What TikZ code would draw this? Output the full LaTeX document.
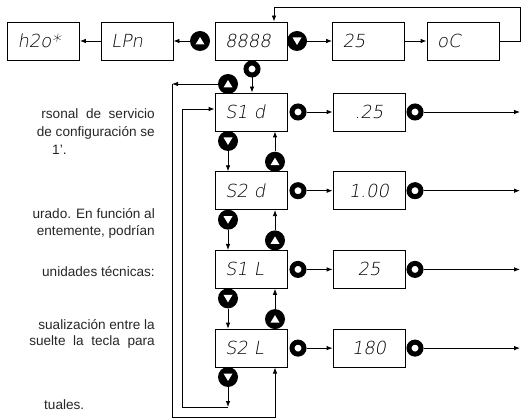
\documentclass[tikz,border=0pt]{standalone}
\usepackage{fontspec}
\setmainfont{Liberation Sans}
\newfontfamily\segfont{DejaVu Sans}[UprightFont=* ExtraLight, FakeSlant=0.18]
\usetikzlibrary{arrows.meta,positioning}

\tikzset{
  disp/.style={draw, line width=0.8pt, minimum width=72pt, minimum height=38pt,
    inner sep=0pt, font=\segfont\fontsize{18}{18}\selectfont, text width=52pt, align=left},
  val/.style={disp, align=center},
  keyup/.style={circle, fill=black, minimum size=20pt, inner sep=0pt,
    path picture={\fill[white] ([yshift=4pt]path picture bounding box.center)
      -- ++(-4.5pt,-7.5pt) -- ++(9pt,0pt) -- cycle;}},
  keydn/.style={circle, fill=black, minimum size=20pt, inner sep=0pt,
    path picture={\fill[white] ([yshift=-4pt]path picture bounding box.center)
      -- ++(-4.5pt,7.5pt) -- ++(9pt,0pt) -- cycle;}},
  keyok/.style={circle, draw=black, fill=white, line width=5pt, minimum size=12pt, inner sep=0pt},
  link/.style={line width=0.8pt, -{Latex[length=6pt,width=4.5pt]}},
  wire/.style={line width=0.8pt},
  para/.style={font=\fontsize{13.6}{16}\selectfont, text=black!85, inner sep=0pt}
}

\begin{document}
\begin{tikzpicture}[x=1pt,y=-1pt]
    \useasboundingbox (0,0) rectangle (521,419);
    \clip (0,0) rectangle (521,419);

    % Left text (cut at the page edge)
    \node[para, anchor=base east] (t1) at (155,119) {rsonal\ \ de\ \ servicio};
    \node[para, anchor=base east] (t2) at (155,137) {de configuración se};
    \node[para, anchor=base west] (t3) at (52,155) {1’.};
    \node[para, anchor=base east] (t4) at (155,219) {urado. En función al};
    \node[para, anchor=base east] (t5) at (155,236) {entemente, podrían};
    \node[para, anchor=base east] (t6) at (155,276) {unidades técnicas:};
    \node[para, anchor=base east] (t7) at (155,329) {sualización entre la};
    \node[para, anchor=base east] (t8) at (155,345.5) {suelte\ \ la\ \ tecla\ \ para};
    \node[para, anchor=base west] (t9) at (44,409) {tuales.};

    % Top row
    \node[disp] (h2o) at (43.5,41) {h2o*};
    \node[disp] (lpn) at (137,41) {LPn};
    \node[disp] (main) at (251,41) {8888};
    \node[disp] (tmp) at (368.5,41) {25};
    \node[disp] (unit) at (463,41) {oC};
    \node[keyup] (kup0) at (200,41) {};
    \node[keydn] (kdn0) at (297,41) {};
    \node[keyok] (kok0) at (252,69) {};

    \draw[link] (kup0) -- (lpn);
    \draw[link] (lpn) -- (h2o);
    \draw[link] (kdn0) -- (tmp);
    \draw[link] (tmp) -- (unit);
    \coordinate (ret) at (520,7);
    \draw[link] (unit.east) -| (ret) -| ([xshift=23pt]main.north);

    % Parameter rows
    \foreach \n/\lab/\val [count=\i] in {s1d/S1 d/.25, s2d/S2 d/1.00, s1l/S1 L/25, s2l/S2 L/180} {
        \pgfmathsetmacro{\yy}{112+78.7*(\i-1)}
        \node[disp] (\n) at (251,\yy) {\lab};
        \node[keyok] (ka\i) at (298,\yy) {};
        \node[val] (v\i) at (369,\yy) {\val};
        \node[keyok] (kb\i) at (415,\yy) {};
        \coordinate (e\i) at (520,\yy);
        \draw[link] (ka\i) -- (v\i);
        \draw[link] (kb\i) -- (e\i);
    }
    \draw[link] (kok0) -- (kok0 |- s1d.north);

    % Up / down between rows
    \foreach \a/\b [count=\i] in {s1d/s2d, s2d/s1l, s1l/s2l} {
        \node[keydn] (kdn\i) at ([xshift=-23pt,yshift=-29pt]\a.center) {};
        \node[keyup] (kup\i) at ([xshift=24pt,yshift=29pt]\b.center) {};
        \draw[link] (kdn\i) -- (kdn\i |- \b.north);
        \draw[link] (kup\i) -- (kup\i |- \a.south);
    }

    % Wrap around loops
    \node[keyup] (kupt) at (228,84) {};
    \coordinate (c1) at (172,84);
    \coordinate (c2) at (172,417);
    \draw[link] (kupt) -- (c1);
    \draw[link] (c1) -- (c2) -| ([xshift=24pt]s2l.south);

    \node[keydn] (kdnb) at (228,377) {};
    \coordinate (c3) at (228,407);
    \coordinate (c4) at (182,407);
    \draw[link] (kdnb) -- (c3);
    \draw[link] (c3) -- (c4) |- ([yshift=3pt]s1d.west);
\end{tikzpicture}
\end{document}
